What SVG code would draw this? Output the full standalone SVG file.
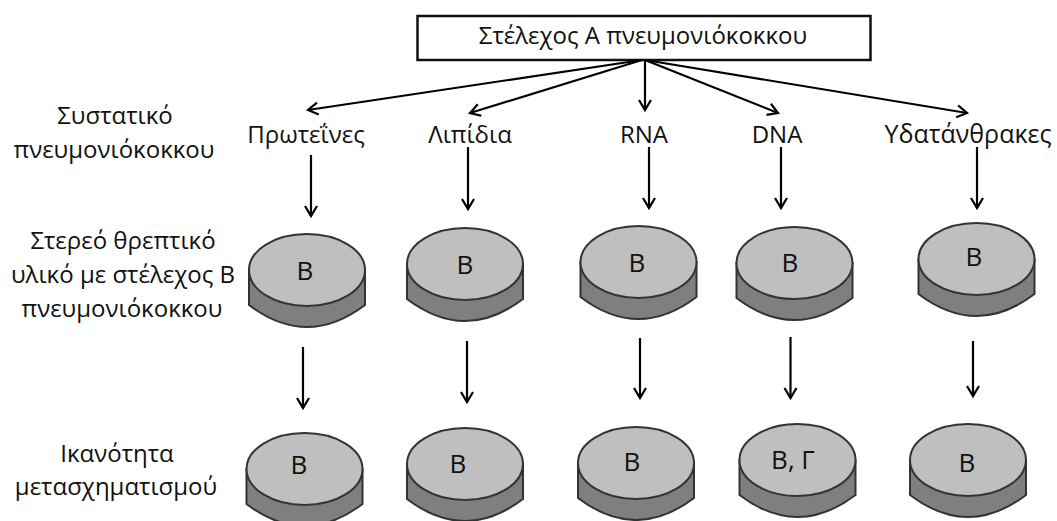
<svg xmlns="http://www.w3.org/2000/svg" width="1057" height="521" viewBox="0 0 1057 521">
  <style>
    text { font-family: "Open Sans", "Noto Sans", "DejaVu Sans", sans-serif; font-size: 24px; fill: #111; text-anchor: middle; }
    .wide { font-size: 25px; }
    .strain { font-size: 26px; }
    .arrow { fill: none; stroke: #000; stroke-width: 2.2; marker-end: url(#head); }
    .side { fill: #7f7f7f; stroke: #333; stroke-width: 2; stroke-linejoin: miter; }
    .top { fill: #bfbfbf; stroke: #333; stroke-width: 2; }
  </style>
  <defs>
    <marker id="head" markerUnits="userSpaceOnUse" markerWidth="16" markerHeight="16" refX="13" refY="8" orient="auto">
      <path d="M3 2 L13 8 L3 14" fill="none" stroke="#000" stroke-width="2.2"/>
    </marker>
    <g id="dish">
      <path class="side" d="M-58 0 V35 Q0 79 58 35 V0 Z"/>
      <ellipse class="top" cx="0" cy="0" rx="58" ry="36"/>
    </g>
  </defs>
  <rect width="1057" height="521" fill="#fff"/>

  <g id="strain-a">
    <rect x="417.500" y="16" width="453" height="44" fill="#fff" stroke="#111" stroke-width="2.500"/>
    <text x="643" y="44">Στέλεχος Α πνευμονιόκοκκου</text>
  </g>

  <g id="connectors">
    <path class="arrow" d="M642 60 L308 110"/>
    <path class="arrow" d="M642 60 L470 113"/>
    <path class="arrow" d="M645 60 V110"/>
    <path class="arrow" d="M645 60 L778 113"/>
    <path class="arrow" d="M645 60 L967 113"/>
    <path class="arrow" d="M311 155 V216"/>
    <path class="arrow" d="M468 147 V209"/>
    <path class="arrow" d="M649 147 V208"/>
    <path class="arrow" d="M781 147 V208"/>
    <path class="arrow" d="M977 147 V208"/>
    <path class="arrow" d="M303 347 V408"/>
    <path class="arrow" d="M467 341 V402"/>
    <path class="arrow" d="M640 338 V398"/>
    <path class="arrow" d="M790.500 337 V398"/>
    <path class="arrow" d="M973 341 V396"/>
  </g>

  <g id="row-labels">
    <text x="115" y="124">Συστατικό</text>
    <text x="114" y="158">πνευμονιόκοκκου</text>
    <text x="123" y="249">Στερεό θρεπτικό</text>
    <text x="123" y="283">υλικό με στέλεχος Β</text>
    <text x="122" y="317">πνευμονιόκοκκου</text>
    <text x="117" y="462">Ικανότητα</text>
    <text x="116" y="495">μετασχηματισμού</text>
  </g>

  <g id="components">
    <text x="306" y="143">Πρωτεΐνες</text>
    <text x="470" y="143">Λιπίδια</text>
    <text x="644" y="143">RNA</text>
    <text x="777" y="143">DNA</text>
    <text x="968" y="143" class="wide">Υδατάνθρακες</text>
  </g>

  <g id="dish-1-1"><use href="#dish" x="307" y="270"/><text class="strain" x="305" y="280">Β</text></g>
  <g id="dish-1-2"><use href="#dish" x="465" y="264"/><text class="strain" x="465" y="274">Β</text></g>
  <g id="dish-1-3"><use href="#dish" x="638.500" y="262"/><text class="strain" x="637" y="272">Β</text></g>
  <g id="dish-1-4"><use href="#dish" x="794.500" y="263"/><text class="strain" x="790" y="272">Β</text></g>
  <g id="dish-1-5"><use href="#dish" x="976.500" y="259"/><text class="strain" x="974" y="266">Β</text></g>
  <g id="dish-2-1"><use href="#dish" x="304.500" y="469"/><text class="strain" x="299" y="474">Β</text></g>
  <g id="dish-2-2"><use href="#dish" x="465" y="464"/><text class="strain" x="458" y="473">Β</text></g>
  <g id="dish-2-3"><use href="#dish" x="636" y="463"/><text class="strain" x="632" y="471">Β</text></g>
  <g id="dish-2-4"><use href="#dish" x="797.500" y="460"/><text class="strain" x="793" y="469">Β, Γ</text></g>
  <g id="dish-2-5"><use href="#dish" x="968" y="460"/><text class="strain" x="967" y="472">Β</text></g>
</svg>
